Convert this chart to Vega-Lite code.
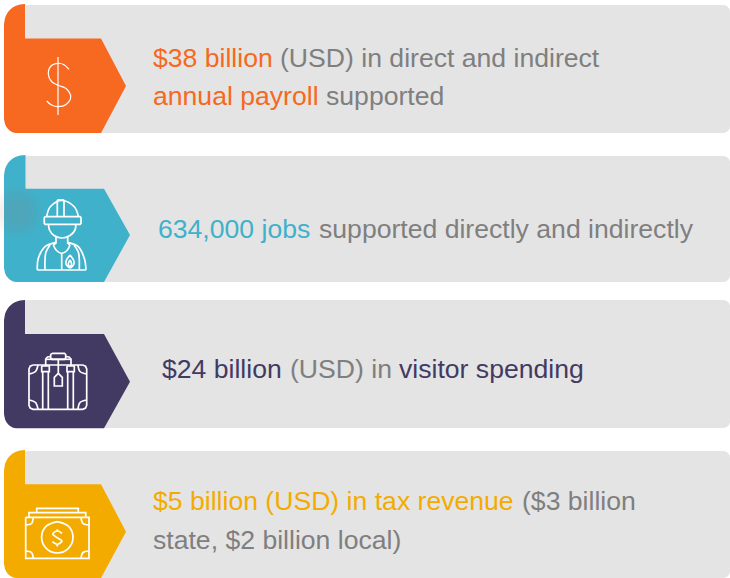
{
"$schema":"https://vega.github.io/schema/vega-lite/v6.json",
"width":730,"height":578,"padding":0,"autosize":{"type":"fit","contains":"padding"},
"background":"#ffffff","view":{"stroke":null},
"config":{"axis":{"domain":false,"grid":false,"ticks":false,"labels":false,"title":null}},
"datasets":{
"cards":[{"card":"grey","x":20,"x2":730,"y":5,"y2":133},{"card":"grey","x":20,"x2":730,"y":156,"y2":282},{"card":"grey","x":20,"x2":730,"y":300,"y2":428},{"card":"grey","x":20,"x2":730,"y":451,"y2":578}],
"tabs":[
{"c":"orange","x":4,"y":24,"y2":119},{"c":"orange","x":5,"y":18,"y2":124},{"c":"orange","x":6,"y":15.5,"y2":126.2},{"c":"orange","x":8,"y":12,"y2":129},{"c":"orange","x":10,"y":9.7,"y2":130.8},{"c":"orange","x":13,"y":7.3,"y2":132.5},{"c":"orange","x":16,"y":5.7,"y2":133},{"c":"orange","x":20,"y":4.4,"y2":133},{"c":"orange","x":25,"y":4,"y2":133},{"c":"orange","x":25,"y":38.5,"y2":133},{"c":"orange","x":101,"y":38.5,"y2":133},{"c":"orange","x":126,"y":86,"y2":86},
{"c":"teal","x":4,"y":175,"y2":268},{"c":"teal","x":5,"y":169,"y2":273},{"c":"teal","x":6,"y":166.5,"y2":275.2},{"c":"teal","x":8,"y":163,"y2":278},{"c":"teal","x":10,"y":160.7,"y2":279.8},{"c":"teal","x":13,"y":158.3,"y2":281.5},{"c":"teal","x":16,"y":156.7,"y2":282},{"c":"teal","x":20,"y":155.4,"y2":282},{"c":"teal","x":25.5,"y":155,"y2":282},{"c":"teal","x":25.5,"y":188.7,"y2":282},{"c":"teal","x":104,"y":188.7,"y2":282},{"c":"teal","x":130,"y":235,"y2":235},
{"c":"purple","x":4,"y":320,"y2":414.3},{"c":"purple","x":5,"y":314,"y2":419.3},{"c":"purple","x":6,"y":311.5,"y2":421.5},{"c":"purple","x":8,"y":308,"y2":424.3},{"c":"purple","x":10,"y":305.7,"y2":426.1},{"c":"purple","x":13,"y":303.3,"y2":427.8},{"c":"purple","x":16,"y":301.7,"y2":428.3},{"c":"purple","x":20,"y":300.4,"y2":428.3},{"c":"purple","x":25,"y":300,"y2":428.3},{"c":"purple","x":25,"y":334,"y2":428.3},{"c":"purple","x":104,"y":334,"y2":428.3},{"c":"purple","x":130,"y":381.7,"y2":381.7},
{"c":"gold","x":4,"y":470,"y2":564},{"c":"gold","x":5,"y":464,"y2":569},{"c":"gold","x":6,"y":461.5,"y2":571.2},{"c":"gold","x":8,"y":458,"y2":574},{"c":"gold","x":10,"y":455.7,"y2":575.8},{"c":"gold","x":13,"y":453.3,"y2":577.5},{"c":"gold","x":16,"y":451.7,"y2":578},{"c":"gold","x":20,"y":450.4,"y2":578},{"c":"gold","x":25,"y":450,"y2":578},{"c":"gold","x":25,"y":484.3,"y2":578},{"c":"gold","x":101,"y":484.3,"y2":578},{"c":"gold","x":126,"y":531.7,"y2":531.7}
],
"smudge":[{"x":17,"y":212}],
"labels":[
{"c":"orange","x":153,"y":67,"t":"$38 billion"},{"c":"grey2","x":280,"y":67,"t":"(USD) in direct and indirect"},
{"c":"orange","x":153,"y":105,"t":"annual payroll"},{"c":"grey2","x":326,"y":105,"t":"supported"},
{"c":"teal","x":158,"y":238,"t":"634,000 jobs"},{"c":"grey2","x":319,"y":238,"t":"supported directly and indirectly"},
{"c":"purple","x":162,"y":378,"t":"$24 billion"},{"c":"grey2","x":290,"y":378,"t":"(USD) in"},{"c":"purple","x":399,"y":378,"t":"visitor spending"},
{"c":"gold","x":153,"y":510,"t":"$5 billion (USD) in tax revenue"},{"c":"grey2","x":522,"y":510,"t":"($3 billion"},
{"c":"grey2","x":153,"y":549,"t":"state, $2 billion local)"}
],
"thin":[
{"g":"d1","x":58,"y":57},{"g":"d1","x":58,"y":115},
{"g":"d2","x":69,"y":69.3},{"g":"d2","x":64,"y":64.8},{"g":"d2","x":58.3,"y":63.3},{"g":"d2","x":51,"y":66},{"g":"d2","x":48.3,"y":74},{"g":"d2","x":51.5,"y":81.5},{"g":"d2","x":58,"y":85.3},{"g":"d2","x":66,"y":88.5},{"g":"d2","x":70.7,"y":96.7},{"g":"d2","x":66,"y":104.5},{"g":"d2","x":58,"y":106.7},{"g":"d2","x":51.5,"y":105},{"g":"d2","x":46.7,"y":101}
],
"curved":[
{"g":"w1","x":46.7,"y":216.7},{"g":"w1","x":50.5,"y":206.5},{"g":"w1","x":62,"y":200.5},{"g":"w1","x":74,"y":206.5},{"g":"w1","x":78.5,"y":216.7},
{"g":"w2","x":48.5,"y":224},{"g":"w2","x":49.5,"y":230},{"g":"w2","x":54,"y":235.5},{"g":"w2","x":62,"y":238},{"g":"w2","x":70,"y":235.5},{"g":"w2","x":75,"y":230},{"g":"w2","x":75.8,"y":224},
{"g":"w3","x":37.3,"y":270},{"g":"w3","x":38.3,"y":258.3},{"g":"w3","x":45,"y":246.7},{"g":"w3","x":56,"y":242.3},
{"g":"w4","x":86,"y":270},{"g":"w4","x":84.3,"y":258.3},{"g":"w4","x":78.3,"y":246.7},{"g":"w4","x":67.7,"y":242.3},
{"g":"w5","x":53.3,"y":245},{"g":"w5","x":56.5,"y":250.5},{"g":"w5","x":61.7,"y":253.3},{"g":"w5","x":67,"y":250.5},{"g":"w5","x":70,"y":245},
{"g":"w6","x":50,"y":245},{"g":"w6","x":46,"y":252},{"g":"w6","x":45,"y":260},{"g":"w6","x":45,"y":270},
{"g":"w7","x":74,"y":245},{"g":"w7","x":78.3,"y":252},{"g":"w7","x":79.3,"y":260},{"g":"w7","x":79.3,"y":270},
{"g":"w8","x":70,"y":255},{"g":"w8","x":66.5,"y":260},{"g":"w8","x":66,"y":264},{"g":"w8","x":70,"y":268},{"g":"w8","x":74,"y":264},{"g":"w8","x":73.5,"y":260},{"g":"w8","x":70,"y":255},
{"g":"w9","x":70,"y":260},{"g":"w9","x":68.3,"y":264},{"g":"w9","x":70,"y":266.7},{"g":"w9","x":71.7,"y":264},{"g":"w9","x":70,"y":260},
{"g":"s1","x":29,"y":374},{"g":"s1","x":35.5,"y":371.5},{"g":"s1","x":38,"y":365},
{"g":"s2","x":29,"y":400},{"g":"s2","x":35.5,"y":402.5},{"g":"s2","x":38,"y":409.3},
{"g":"s3","x":86.7,"y":374},{"g":"s3","x":80,"y":371.5},{"g":"s3","x":78,"y":365},
{"g":"s4","x":86.7,"y":400},{"g":"s4","x":80,"y":402.5},{"g":"s4","x":78,"y":409.3},
{"g":"m1","x":25.7,"y":525},{"g":"m1","x":31.5,"y":523.5},{"g":"m1","x":33.3,"y":517.3},
{"g":"m2","x":89,"y":525},{"g":"m2","x":83,"y":523.5},{"g":"m2","x":81,"y":517.3},
{"g":"m3","x":25.7,"y":551},{"g":"m3","x":31.5,"y":552.5},{"g":"m3","x":33.3,"y":558.3},
{"g":"m4","x":89,"y":551},{"g":"m4","x":83,"y":552.5},{"g":"m4","x":81,"y":558.3},
{"g":"m5","x":57.3,"y":521.6},{"g":"m5","x":68.4,"y":526.2},{"g":"m5","x":73,"y":537.3},{"g":"m5","x":68.4,"y":548.4},{"g":"m5","x":57.3,"y":553},{"g":"m5","x":46.2,"y":548.4},{"g":"m5","x":41.6,"y":537.3},{"g":"m5","x":46.2,"y":526.2},{"g":"m5","x":57.3,"y":521.6},
{"g":"m6","x":62,"y":533.3},{"g":"m6","x":57.3,"y":531},{"g":"m6","x":52.7,"y":534},{"g":"m6","x":57.3,"y":537.7},{"g":"m6","x":62,"y":541},{"g":"m6","x":57.3,"y":544.3},{"g":"m6","x":52.3,"y":541.7}
],
"straight":[
{"g":"a1","x":57.3,"y":216.7},{"g":"a1","x":57.3,"y":200.5},{"g":"a1","x":58.5,"y":199.8},{"g":"a1","x":63,"y":199.8},{"g":"a1","x":64,"y":200.5},{"g":"a1","x":64,"y":216.7},
{"g":"a2","x":45.3,"y":216.7},{"g":"a2","x":80,"y":216.7},{"g":"a2","x":81,"y":217.7},{"g":"a2","x":81,"y":223.3},{"g":"a2","x":80,"y":224.3},{"g":"a2","x":45.3,"y":224.3},{"g":"a2","x":44.3,"y":223.3},{"g":"a2","x":44.3,"y":217.7},{"g":"a2","x":45.3,"y":216.7},
{"g":"a3","x":37.3,"y":270},{"g":"a3","x":86,"y":270},
{"g":"a4","x":61.7,"y":253.3},{"g":"a4","x":61.7,"y":270},
{"g":"a5","x":56,"y":237},{"g":"a5","x":56,"y":243},{"g":"a5","x":53.3,"y":245},
{"g":"a6","x":67.7,"y":237},{"g":"a6","x":67.7,"y":243},{"g":"a6","x":70,"y":245},
{"g":"b1","x":33,"y":365},{"g":"b1","x":82.7,"y":365},{"g":"b1","x":85.5,"y":366.2},{"g":"b1","x":86.7,"y":369},{"g":"b1","x":86.7,"y":405.3},{"g":"b1","x":85.5,"y":408.1},{"g":"b1","x":82.7,"y":409.3},{"g":"b1","x":33,"y":409.3},{"g":"b1","x":30.2,"y":408.1},{"g":"b1","x":29,"y":405.3},{"g":"b1","x":29,"y":369},{"g":"b1","x":30.2,"y":366.2},{"g":"b1","x":33,"y":365},
{"g":"b2","x":42.7,"y":371.7},{"g":"b2","x":42.7,"y":409.3},
{"g":"b3","x":48.3,"y":371.7},{"g":"b3","x":48.3,"y":409.3},
{"g":"b4","x":67.7,"y":371.7},{"g":"b4","x":67.7,"y":409.3},
{"g":"b5","x":73.3,"y":371.7},{"g":"b5","x":73.3,"y":409.3},
{"g":"b6","x":41.7,"y":366},{"g":"b6","x":49.3,"y":366},{"g":"b6","x":49.3,"y":371.7},{"g":"b6","x":41.7,"y":371.7},{"g":"b6","x":41.7,"y":366},
{"g":"b7","x":67,"y":366},{"g":"b7","x":74.3,"y":366},{"g":"b7","x":74.3,"y":371.7},{"g":"b7","x":67,"y":371.7},{"g":"b7","x":67,"y":366},
{"g":"b8","x":52,"y":353.3},{"g":"b8","x":64.5,"y":353.3},{"g":"b8","x":65.7,"y":354.5},{"g":"b8","x":65.7,"y":358},{"g":"b8","x":64.5,"y":359.3},{"g":"b8","x":52,"y":359.3},{"g":"b8","x":50.7,"y":358},{"g":"b8","x":50.7,"y":354.5},{"g":"b8","x":52,"y":353.3},
{"g":"b9","x":45.7,"y":366},{"g":"b9","x":45.7,"y":359},{"g":"b9","x":47.5,"y":357},{"g":"b9","x":50.7,"y":356.5},
{"g":"c1","x":71,"y":366},{"g":"c1","x":71,"y":359},{"g":"c1","x":69,"y":357},{"g":"c1","x":65.7,"y":356.5},
{"g":"c2","x":45.7,"y":359.3},{"g":"c2","x":71,"y":359.3},
{"g":"c3","x":58.3,"y":359.3},{"g":"c3","x":58.3,"y":373.3},
{"g":"c4","x":58.3,"y":373.3},{"g":"c4","x":62.3,"y":377.3},{"g":"c4","x":62.3,"y":386},{"g":"c4","x":54.3,"y":386},{"g":"c4","x":54.3,"y":377.3},{"g":"c4","x":58.3,"y":373.3},
{"g":"e1","x":25.7,"y":517.3},{"g":"e1","x":89,"y":517.3},{"g":"e1","x":89,"y":558.3},{"g":"e1","x":25.7,"y":558.3},{"g":"e1","x":25.7,"y":517.3},
{"g":"e2","x":29,"y":517.3},{"g":"e2","x":29,"y":512.7},{"g":"e2","x":85.7,"y":512.7},{"g":"e2","x":85.7,"y":517.3},
{"g":"e3","x":36.7,"y":512.7},{"g":"e3","x":36.7,"y":508.3},{"g":"e3","x":78.3,"y":508.3},{"g":"e3","x":78.3,"y":512.7},
{"g":"e4","x":57.3,"y":529.3},{"g":"e4","x":57.3,"y":531},
{"g":"e5","x":57.3,"y":544.3},{"g":"e5","x":57.3,"y":546.5}
]
},
"layer":[
{"data":{"name":"cards"},"mark":{"type":"rect","cornerRadius":7,"color":"#e4e4e4"},
 "encoding":{"x":{"field":"x","type":"quantitative","scale":{"domain":[0,730],"nice":false,"zero":false},"axis":null},"x2":{"field":"x2"},"y":{"field":"y","type":"quantitative","scale":{"domain":[578,0],"nice":false,"zero":false},"axis":null},"y2":{"field":"y2"}}},
{"data":{"name":"tabs"},"mark":{"type":"area","orient":"vertical","interpolate":"linear","opacity":1},
 "encoding":{"x":{"field":"x","type":"quantitative"},"y":{"field":"y","type":"quantitative"},"y2":{"field":"y2"},"order":{"value":null},
 "color":{"field":"c","type":"nominal","legend":null,"scale":{"domain":["orange","teal","purple","gold","grey2"],"range":["#f76821","#3fb1cb","#423a62","#f4ab00","#7f7f7f"]}}}},
{"data":{"name":"smudge"},"mark":{"type":"point","clip":true,"shape":"circle","filled":true,"size":3200,"color":"#a07a60","opacity":0.015},"encoding":{"x":{"field":"x","type":"quantitative"},"y":{"field":"y","type":"quantitative"}}},
{"data":{"name":"smudge"},"mark":{"type":"point","clip":true,"shape":"circle","filled":true,"size":2500,"color":"#a07a60","opacity":0.025},"encoding":{"x":{"field":"x","type":"quantitative"},"y":{"field":"y","type":"quantitative"}}},
{"data":{"name":"smudge"},"mark":{"type":"point","clip":true,"shape":"circle","filled":true,"size":1800,"color":"#a07a60","opacity":0.035},"encoding":{"x":{"field":"x","type":"quantitative"},"y":{"field":"y","type":"quantitative"}}},
{"data":{"name":"smudge"},"mark":{"type":"point","clip":true,"shape":"circle","filled":true,"size":1200,"color":"#a07a60","opacity":0.04},"encoding":{"x":{"field":"x","type":"quantitative"},"y":{"field":"y","type":"quantitative"}}},
{"data":{"name":"smudge"},"mark":{"type":"point","clip":true,"shape":"circle","filled":true,"size":700,"color":"#a07a60","opacity":0.05},"encoding":{"x":{"field":"x","type":"quantitative"},"y":{"field":"y","type":"quantitative"}}},
{"data":{"name":"thin"},"mark":{"type":"line","interpolate":"cardinal","color":"#ffffff","strokeWidth":1.2},"encoding":{"x":{"field":"x","type":"quantitative"},"y":{"field":"y","type":"quantitative"},"detail":{"field":"g"},"order":{"value":null}}},
{"data":{"name":"curved"},"mark":{"type":"line","interpolate":"cardinal","color":"#ffffff","strokeWidth":1.7},"encoding":{"x":{"field":"x","type":"quantitative"},"y":{"field":"y","type":"quantitative"},"detail":{"field":"g"},"order":{"value":null}}},
{"data":{"name":"straight"},"mark":{"type":"line","interpolate":"linear","color":"#ffffff","strokeWidth":1.7},"encoding":{"x":{"field":"x","type":"quantitative"},"y":{"field":"y","type":"quantitative"},"detail":{"field":"g"},"order":{"value":null}}},
{"data":{"name":"labels"},"mark":{"type":"text","font":"Liberation Sans","fontSize":26.6,"align":"left","baseline":"alphabetic"},
 "encoding":{"x":{"field":"x","type":"quantitative"},"y":{"field":"y","type":"quantitative"},"text":{"field":"t"},
 "color":{"field":"c","type":"nominal","legend":null,"scale":{"domain":["orange","teal","purple","gold","grey2"],"range":["#f76821","#3fb1cb","#423a62","#f4ab00","#7f7f7f"]}}}}
]
}
